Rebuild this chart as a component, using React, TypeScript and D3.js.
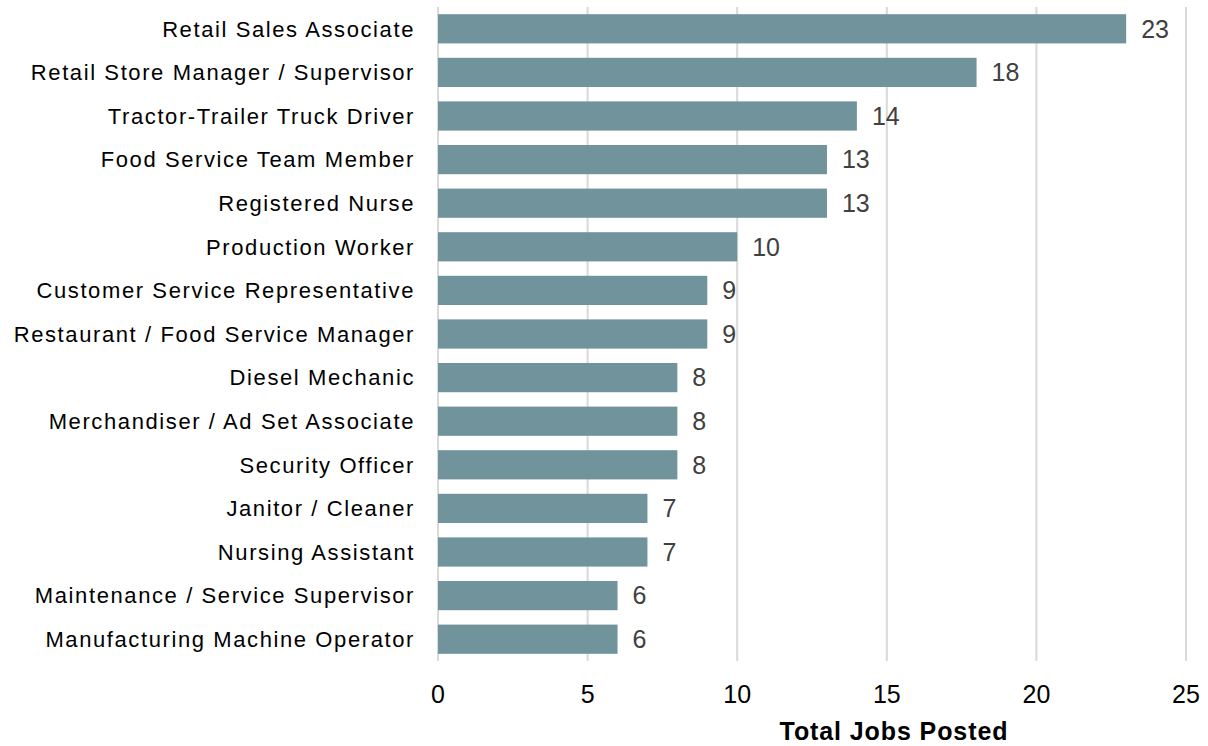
import React from "react";
import * as d3 from "d3";

const categories = [
  "Retail Sales Associate",
  "Retail Store Manager / Supervisor",
  "Tractor-Trailer Truck Driver",
  "Food Service Team Member",
  "Registered Nurse",
  "Production Worker",
  "Customer Service Representative",
  "Restaurant / Food Service Manager",
  "Diesel Mechanic",
  "Merchandiser / Ad Set Associate",
  "Security Officer",
  "Janitor / Cleaner",
  "Nursing Assistant",
  "Maintenance / Service Supervisor",
  "Manufacturing Machine Operator",
];
const values = [23, 18, 14, 13, 13, 10, 9, 9, 8, 8, 8, 7, 7, 6, 6];
const xTicks = [0, 5, 10, 15, 20, 25];
const xTitle = "Total Jobs Posted";

const W = 1208;
const H = 746;
const FONT = "'Liberation Sans', Arial, sans-serif";

export default function App() {
  const x = d3.scaleLinear().domain([0, 25]).range([438, 1186]);
  const y = d3
    .scaleBand<string>()
    .domain(categories)
    .range([7, 661])
    .paddingInner(0.33)
    .paddingOuter(0.165);

  return (
    <svg
      width={W}
      height={H}
      style={{ position: "absolute", left: 0, top: 0, background: "#fff" }}
      fontFamily={FONT}
    >
      {xTicks.map((t) => (
        <g key={t}>
          <line x1={x(t)} x2={x(t)} y1={7} y2={661} stroke="#d9d9d9" strokeWidth={2} />
          <text x={x(t)} y={703} textAnchor="middle" fontSize={25} fill="#000">
            {t}
          </text>
        </g>
      ))}
      {categories.map((c, i) => {
        const yy = y(c)!;
        const bw = y.bandwidth();
        return (
          <g key={c}>
            <rect x={x(0)} y={yy} width={x(values[i]) - x(0)} height={bw} fill="#71939b" />
            <text
              x={415}
              y={yy + bw / 2}
              dy="0.35em"
              textAnchor="end"
              fontSize={22}
              letterSpacing={1.6}
              fill="#000"
            >
              {c}
            </text>
            <text
              x={x(values[i]) + 15}
              y={yy + bw / 2}
              dy="0.35em"
              textAnchor="start"
              fontSize={25}
              fill="#404040"
            >
              {values[i]}
            </text>
          </g>
        );
      })}
      <text
        x={894}
        y={740}
        textAnchor="middle"
        fontSize={25}
        fontWeight="bold"
        letterSpacing={0.9}
        fill="#000"
      >
        {xTitle}
      </text>
    </svg>
  );
}
